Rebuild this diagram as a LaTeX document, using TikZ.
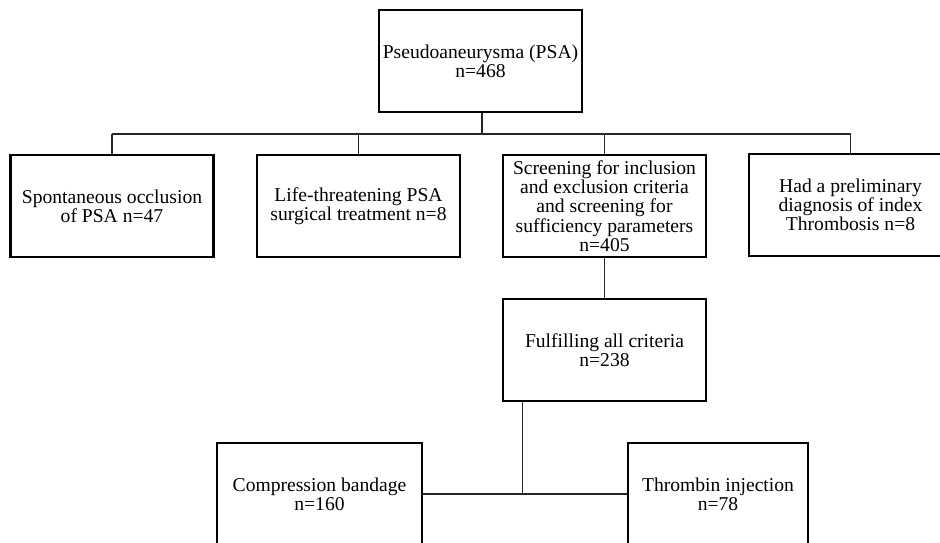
\documentclass[tikz,border=0pt]{standalone}
\usepackage{fontspec}
\setmainfont{Liberation Serif}

\tikzset{
    box/.style={draw, line width=2.4pt, minimum width=203pt, minimum height=102pt,
        inner sep=0.5pt, align=center, font=\fontsize{19.6}{19.2}\selectfont},
    link/.style={draw=black!85, line width=1.3pt}
}

\begin{document}
\begin{tikzpicture}[x=1pt,y=-1pt]
        \clip (0,0) rectangle (940,542);

        % Top level
        \node[box] (psa) at (480.5,61) {Pseudoaneurysma (PSA)\\n=468};

        % Second level
        \node[box] (spont) at (112,206) {Spontaneous occlusion\\of PSA n=47};
        \node[box] (life) at (358.5,206) {Life-threatening PSA\\surgical treatment n=8};
        \node[box] (screen) at (604.5,206) {Screening for inclusion\\and exclusion criteria\\and screening for\\sufficiency parameters\\n=405};
        \node[box] (thromb) at (850.5,205) {Had a preliminary\\diagnosis of index\\Thrombosis n=8};

        % Lower levels
        \node[box] (fulfil) at (604.5,350) {Fulfilling all criteria\\n=238};
        \node[box, minimum width=205pt] (bandage) at (319.5,494) {Compression bandage\\n=160};
        \node[box, minimum width=180pt] (inject) at (718,494) {Thrombin injection\\n=78};

        % Connectors
        \coordinate (bar) at (482,134);
        \coordinate (split) at (522.7,494);
        \draw[link] (psa.south -| bar) -- (bar);
        \draw[link] (spont.north |- bar) -- (thromb.north |- bar);
        \foreach \b in {spont, life, screen, thromb} {
            \draw[link] (\b.north) -- (\b.north |- bar);
        }
        \draw[link] (screen.south) -- (fulfil.north);
        \draw[link] (fulfil.south -| split) -- (split);
        \draw[link] (bandage.east) -- (inject.west);
    \end{tikzpicture}
\end{document}
